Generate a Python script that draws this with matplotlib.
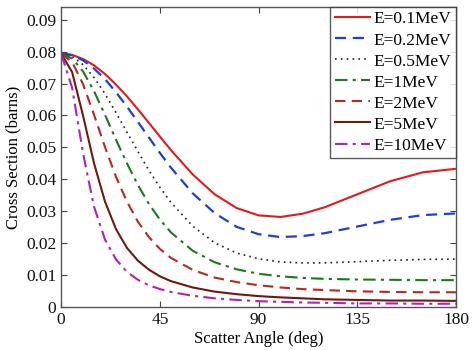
import matplotlib
matplotlib.use("Agg")
import matplotlib.pyplot as plt

angles = [0, 5, 10, 15, 20, 25, 30, 35, 40, 45, 50, 60, 70, 80, 90, 100, 110, 120, 135, 150, 165, 180]

e_0p1 = [0.0794, 0.0790, 0.0777, 0.0757, 0.0730, 0.0697, 0.0660, 0.0619, 0.0577, 0.0534, 0.0492, 0.0415, 0.0353, 0.0310, 0.0287, 0.0282, 0.0292, 0.0312, 0.0353, 0.0394, 0.0422, 0.0433]
e_0p2 = [0.0794, 0.0789, 0.0773, 0.0747, 0.0714, 0.0673, 0.0628, 0.0580, 0.0531, 0.0483, 0.0437, 0.0356, 0.0294, 0.0251, 0.0228, 0.0219, 0.0222, 0.0231, 0.0252, 0.0273, 0.0288, 0.0293]
e_0p5 = [0.0794, 0.0785, 0.0759, 0.0719, 0.0668, 0.0609, 0.0548, 0.0487, 0.0428, 0.0375, 0.0328, 0.0253, 0.0201, 0.0169, 0.0151, 0.0141, 0.0138, 0.0138, 0.0142, 0.0146, 0.0149, 0.0150]
e_1 = [0.0794, 0.0779, 0.0738, 0.0676, 0.0602, 0.0524, 0.0450, 0.0382, 0.0323, 0.0274, 0.0234, 0.0176, 0.0140, 0.0118, 0.0104, 0.0096, 0.0091, 0.0088, 0.0086, 0.0085, 0.0084, 0.0084]
e_2 = [0.0794, 0.0768, 0.0698, 0.0602, 0.0501, 0.0408, 0.0330, 0.0267, 0.0219, 0.0182, 0.0154, 0.0116, 0.0092, 0.0078, 0.0068, 0.0061, 0.0056, 0.0053, 0.0049, 0.0047, 0.0046, 0.0046]
e_5 = [0.0794, 0.0736, 0.0599, 0.0450, 0.0330, 0.0244, 0.0185, 0.0145, 0.0117, 0.0096, 0.0081, 0.0061, 0.0048, 0.0040, 0.0034, 0.0030, 0.0027, 0.0024, 0.0022, 0.0020, 0.0020, 0.0019]
e_10 = [0.0794, 0.0687, 0.0481, 0.0314, 0.0211, 0.0149, 0.0110, 0.0085, 0.0068, 0.0056, 0.0047, 0.0035, 0.0027, 0.0022, 0.0018, 0.0016, 0.0014, 0.0013, 0.0011, 0.0011, 0.0010, 0.0010]

labels = ["E=0.1MeV", "E=0.2MeV", "E=0.5MeV", "E=1MeV", "E=2MeV", "E=5MeV", "E=10MeV"]
xticks = [0, 45, 90, 135, 180]
yticks = [0, 0.01, 0.02, 0.03, 0.04, 0.05, 0.06, 0.07, 0.08, 0.09]
ytick_labels = ["0", "0.01", "0.02", "0.03", "0.04", "0.05", "0.06", "0.07", "0.08", "0.09"]

plt.rcParams['font.family'] = ['Liberation Serif', 'DejaVu Serif']

fig = plt.figure(figsize=(4.74, 3.5), dpi=100)
ax = fig.add_axes([0.129, 0.123, 0.833, 0.857])

series = [e_0p1, e_0p2, e_0p5, e_1, e_2, e_5, e_10]
styles = [
    dict(color="#e31a1c", linestyle="-", linewidth=1.5),
    dict(color="#1f3ddb", linestyle=(0, (5, 3)), linewidth=1.6),
    dict(color="#202020", linestyle=(0, (1, 2.5)), linewidth=1.2),
    dict(color="#1a7a1a", linestyle=(0, (6, 2.5, 1.5, 2.5)), linewidth=1.5),
    dict(color="#b8281c", linestyle=(0, (5, 3)), linewidth=1.5),
    dict(color="#6e1a0c", linestyle="-", linewidth=1.5),
    dict(color="#b021b8", linestyle=(0, (6, 2.5, 1.5, 2.5)), linewidth=1.5),
]
for vals, lab, st in zip(series, labels, styles):
    ax.plot(angles, vals, label=lab, **st)

ax.set_xlim(0, 180)
ax.set_ylim(0, 0.094)
ax.set_xticks(xticks)
ax.set_xticklabels([str(t) for t in xticks])
ax.set_yticks(yticks)
ax.set_yticklabels(ytick_labels)
ax.tick_params(direction="in", top=True, right=True, labelsize=12.5, length=4,
               color="#444444", labelcolor="#111111")
for sp in ax.spines.values():
    sp.set_color("#555555")
    sp.set_linewidth(1.0)

ax.set_xlabel("Scatter Angle (deg)", fontsize=12, labelpad=2)
ax.set_ylabel("Cross Section (barns)", fontsize=12, labelpad=3)

leg = ax.legend(loc="upper right", fontsize=12.5, frameon=True, fancybox=False,
                handlelength=2.0, handletextpad=0.25, borderpad=0.25, labelspacing=0.28,
                borderaxespad=0.0)
leg.get_frame().set_edgecolor("#333333")
leg.get_frame().set_linewidth(1.0)

fig.savefig("out.png", dpi=100)
